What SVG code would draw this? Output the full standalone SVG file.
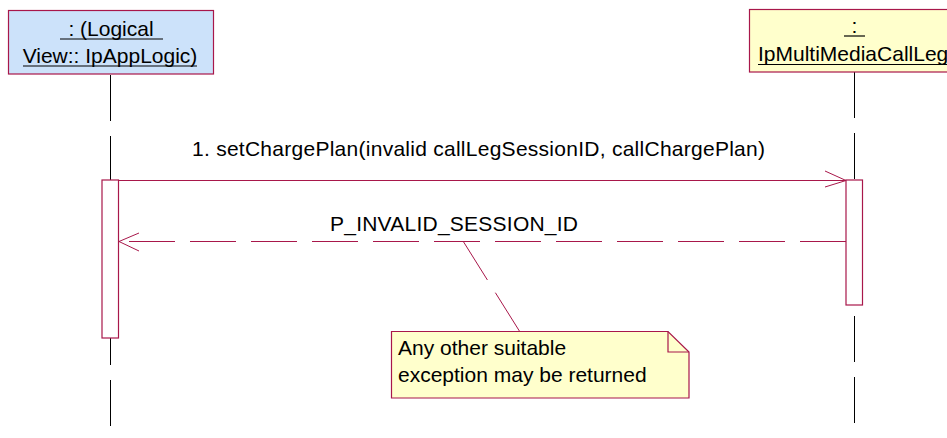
<svg xmlns="http://www.w3.org/2000/svg" width="947" height="438" viewBox="0 0 947 438">
<defs>
<style>
text{font-family:"Liberation Sans",Arial,sans-serif;font-size:21px;fill:#000}
.obj{stroke:#a8174a;stroke-width:1.2}
.life{stroke:#000;stroke-width:1;stroke-dasharray:46 15;fill:none}
.act{fill:#fff;stroke:#a8174a;stroke-width:1.2}
.msg{stroke:#a8174a;stroke-width:1;fill:none}
.ret{stroke:#a8174a;stroke-width:1;fill:none;stroke-dasharray:46 15}
.ul{stroke:#000;stroke-width:1.2}
</style>
</defs>
<rect width="947" height="438" fill="#fff"/>
<g id="lifelines">
<line class="life" x1="110.5" y1="75" x2="110.5" y2="427"/>
<line class="life" x1="854.5" y1="72" x2="854.5" y2="427"/>
</g>
<g id="obj-applogic">
<rect class="obj" x="8.5" y="10.5" width="205" height="63.5" fill="#cce2fa"/>
<text x="111" y="35.5" text-anchor="middle">: (Logical</text>
<line class="ul" x1="60" y1="39" x2="163" y2="39"/>
<text x="110" y="62.5" text-anchor="middle">View:: IpAppLogic)</text>
<line class="ul" x1="23" y1="66" x2="197" y2="66"/>
</g>
<g id="obj-callleg">
<rect class="obj" x="749.5" y="9.5" width="215" height="62.5" fill="#ffffcc"/>
<text x="854.5" y="32.5" text-anchor="middle">:</text>
<line class="ul" x1="844" y1="36" x2="865" y2="36"/>
<text x="758" y="61">IpMultiMediaCallLeg</text>
<line class="ul" x1="758" y1="64.5" x2="947" y2="64.5"/>
</g>
<g id="activation-left">
<rect class="act" x="102" y="180" width="16.5" height="158"/>
</g>
<g id="activation-right">
<rect class="act" x="846" y="180" width="16.5" height="125"/>
</g>
<g id="connectors">
<line class="msg" x1="118.5" y1="180.5" x2="846" y2="180.5"/>
<polyline class="msg" points="825,171 846,180.5 825,187" stroke-width="1.5"/>
<text x="192" y="156" textLength="573" lengthAdjust="spacing">1. setChargePlan(invalid callLegSessionID, callChargePlan)</text>
<line class="ret" x1="846" y1="241.5" x2="119" y2="241.5"/>
<polyline class="msg" points="139,233 119,241.5 139,251" stroke-width="1.5"/>
<text x="330" y="231" textLength="248" lengthAdjust="spacing">P_INVALID_SESSION_ID</text>
<line class="msg" x1="463" y1="241" x2="520" y2="332" stroke-dasharray="46 15"/>
</g>
<g id="note">
<path d="M391.5,331.5 H668 L689,352 V398 H391.5 Z" fill="#ffffcc" stroke="#a8174a" stroke-width="1.2"/>
<path d="M668,331.5 V352 H689" fill="none" stroke="#a8174a" stroke-width="1.2"/>
<text x="398" y="355">Any other suitable</text>
<text x="398" y="381.5">exception may be returned</text>
</g>
</svg>
